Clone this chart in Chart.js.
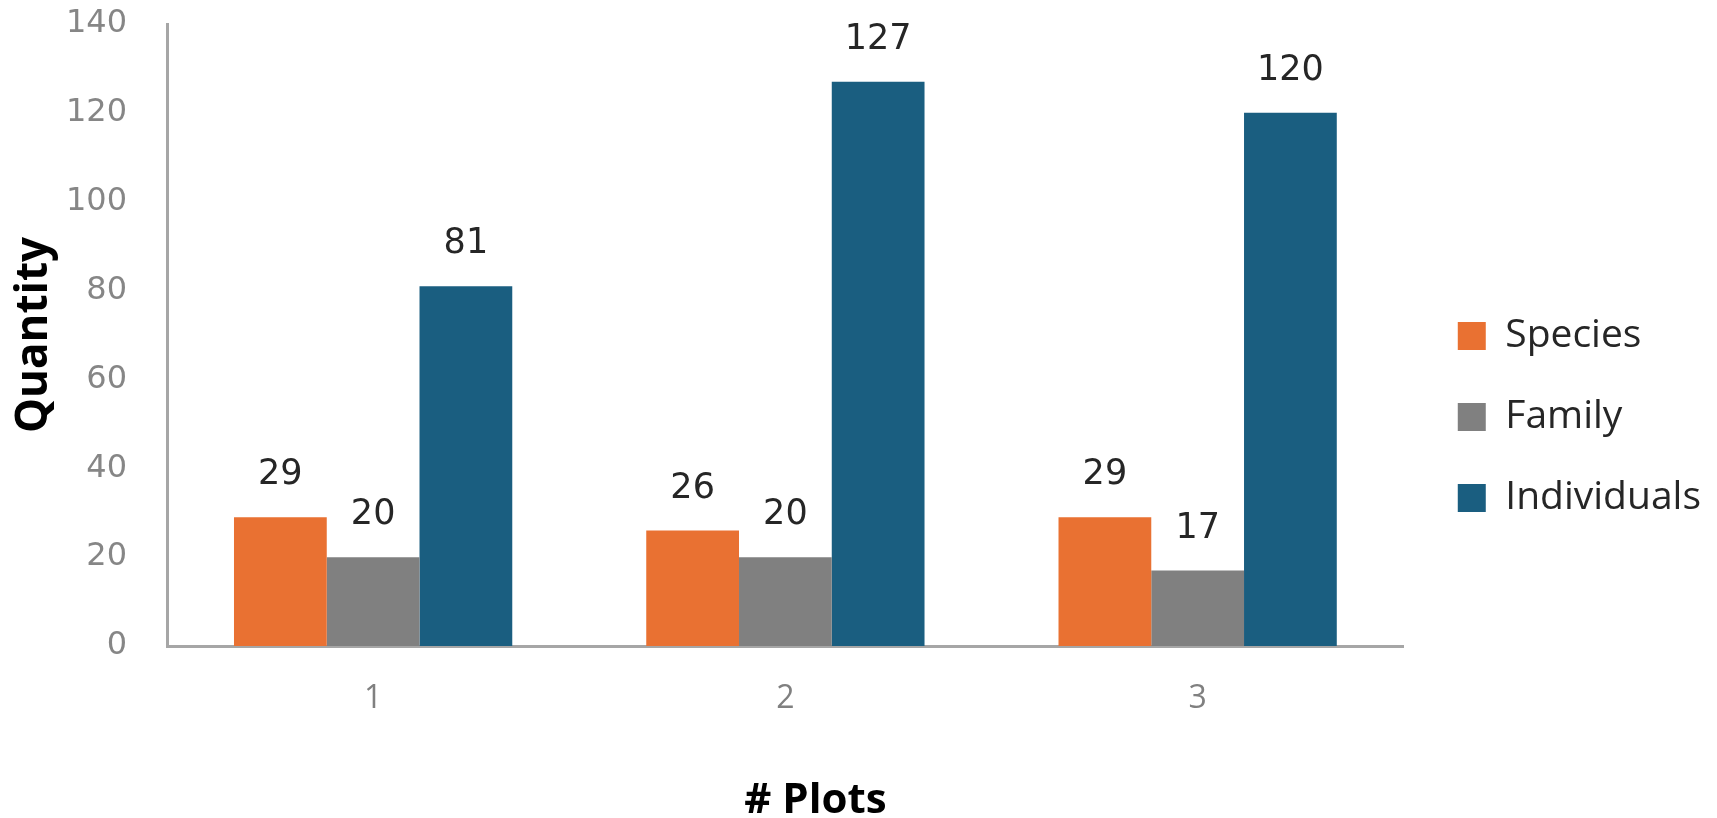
<!DOCTYPE html>
<html>
<head>
<meta charset="utf-8">
<script src="https://cdn.jsdelivr.net/npm/chart.js@4.4.1/dist/chart.umd.min.js"></script>
<style>
  html, body { margin: 0; padding: 0; background: #fff; }
  #wrap { width: 1717px; height: 818px; }
</style>
</head>
<body>
<div id="wrap"><canvas id="chart" width="1717" height="818"></canvas></div>
<script>
// -------------------- Data --------------------
const plots = ["1", "2", "3"];
const species = [29, 26, 29];
const family = [20, 20, 17];
const individuals = [81, 127, 120];
const yTicks = [0, 20, 40, 60, 80, 100, 120, 140];

const COLORS = { species: "#E97132", family: "#808080", individuals: "#1A5E80" };

// -------------------- Plugins --------------------
// values above each bar
const barLabels = {
    id: "barLabels",
    afterDatasetsDraw(chart) {
        const ctx = chart.ctx;
        ctx.save();
        ctx.font = "35px 'DejaVu Sans'";
        ctx.fillStyle = "#262626";
        ctx.textAlign = "center";
        ctx.textBaseline = "middle";
        chart.data.datasets.forEach((ds, i) => {
            chart.getDatasetMeta(i).data.forEach((bar, j) => {
                ctx.fillText(ds.data[j], bar.x, bar.y - 42);
            });
        });
        ctx.restore();
    }
};

// x axis title, sits a bit right of centre like the original
const xTitle = {
    id: "xTitle",
    afterDraw(chart) {
        const ctx = chart.ctx;
        const area = chart.chartArea;
        ctx.save();
        ctx.font = "bold 42px 'Open Sans'";
        ctx.fillStyle = "#000";
        ctx.textAlign = "center";
        ctx.textBaseline = "middle";
        ctx.fillText("# Plots", (area.left + area.right) / 2 + 30, chart.height - 17);
        ctx.restore();
    }
};

// nudge legend away from the plot
const legendNudge = {
    id: "legendNudge",
    afterLayout(chart) {
        const lg = chart.legend;
        lg.left += 12; lg.right += 12;
        lg.top -= 4; lg.bottom -= 4;
    }
};

// -------------------- Chart --------------------
const ctx = document.getElementById("chart").getContext("2d");
new Chart(ctx, {
    type: "bar",
    data: {
        labels: plots,
        datasets: [
            { label: "Species", data: species, backgroundColor: COLORS.species },
            { label: "Family", data: family, backgroundColor: COLORS.family },
            { label: "Individuals", data: individuals, backgroundColor: COLORS.individuals }
        ]
    },
    options: {
        responsive: false,
        animation: false,
        categoryPercentage: 0.675,
        barPercentage: 1,
        layout: { padding: { top: 24, right: 18, bottom: 0, left: 0 } },
        plugins: {
            legend: {
                position: "right",
                labels: {
                    boxWidth: 28,
                    boxHeight: 28,
                    padding: 42,
                    color: "#262626",
                    font: { family: "'Open Sans'", size: 39 }
                }
            },
            tooltip: { enabled: false }
        },
        scales: {
            x: {
                grid: { display: false, drawTicks: false },
                border: { display: true, color: "#a6a6a6", width: 3 },
                ticks: { color: "#808080", padding: 34, font: { family: "'Open Sans'", size: 32 } },
                afterFit(s) { s.height = 172; }
            },
            y: {
                min: 0,
                max: 140,
                afterBuildTicks(s) { s.ticks = yTicks.map(v => ({ value: v })); },
                grid: { display: false, drawTicks: false },
                border: { display: true, color: "#a6a6a6", width: 3 },
                ticks: { color: "#868686", padding: 40, font: { family: "'DejaVu Sans'", size: 32 } },
                title: {
                    display: true,
                    text: "Quantity",
                    color: "#000",
                    padding: { top: 8, bottom: 0 },
                    font: { family: "'Open Sans'", size: 44, weight: "bold" }
                },
                afterFit(s) {
                    s.width = 167;
                    s.paddingTop = 0;
                    s.paddingBottom = 0;
                }
            }
        }
    },
    plugins: [barLabels, xTitle, legendNudge]
});
</script>
</body>
</html>
